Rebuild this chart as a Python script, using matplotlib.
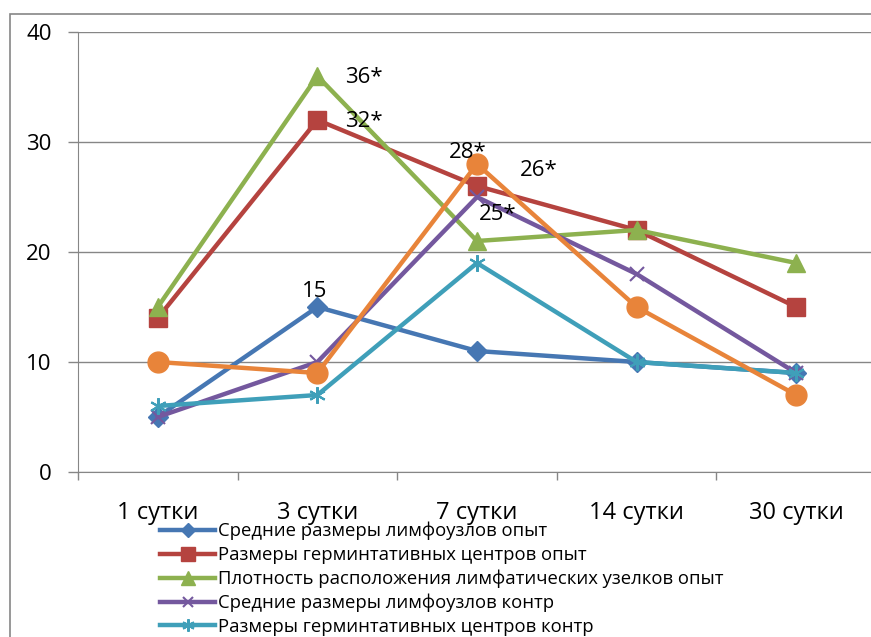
import matplotlib
matplotlib.use("Agg")
import matplotlib.pyplot as plt
from matplotlib.patches import Rectangle

plt.rcParams['font.family'] = ['Open Sans', 'DejaVu Sans']

days = ["1 сутки", "3 сутки", "7 сутки", "14 сутки", "30 сутки"]

lymph_exp = [5, 15, 11, 10, 9]
germ_exp = [14, 32, 26, 22, 15]
density_exp = [15, 36, 21, 22, 19]
lymph_ctrl = [5, 10, 25, 18, 9]
germ_ctrl = [6, 7, 19, 10, 9]
density_ctrl = [10, 9, 28, 15, 7]

labels = [
    "Средние размеры лимфоузлов опыт",
    "Размеры герминтативных центров опыт",
    "Плотность расположения лимфатических узелков опыт",
    "Средние размеры лимфоузлов контр",
    "Размеры герминтативных центров контр",
    "Плотность расположения лимфатических узелков контр",
]

# annotation text, (x, y) in data units
notes = [("15", 0.98, 16.4), ("36*", 1.29, 35.9), ("32*", 1.29, 31.9),
         ("28*", 1.94, 29.0), ("26*", 2.39, 27.4), ("25*", 2.13, 23.4)]

W, H = 871, 637
fig = plt.figure(figsize=(W / 100, H / 100), dpi=100)
ax = fig.add_axes([78 / W, 1 - 472 / H, 798 / W, 440 / H])

# outer chart frame
fig.patches.append(Rectangle((10 / W, -0.2), 1.2, 1.2 - 14 / H, transform=fig.transFigure,
                             fill=False, edgecolor='#868686', lw=1.2, zorder=0))

x = range(len(days))
series = [
    (lymph_exp, '#4677B3', 'D', 10, 1),
    (germ_exp, '#B5433F', 's', 13, 1),
    (density_exp, '#8DB14F', '^', 13, 1),
    (lymph_ctrl, '#74589E', 'x', 10, 1.5),
    (germ_ctrl, '#3F9FB9', (6, 2, 0), 12, 1.5),
    (density_ctrl, '#E8843A', 'o', 15, 1),
]
handles = []
for (vals, col, mk, ms, mew), lab in zip(series, labels):
    h, = ax.plot(x, vals, color=col, lw=3.2, marker=mk, markersize=ms,
                 markeredgecolor=col, markerfacecolor=col, markeredgewidth=mew,
                 label=lab, clip_on=False)
    handles.append(h)

for txt, tx, ty in notes:
    ax.text(tx, ty, txt, fontsize=16, ha='center', va='center', color='black')

ax.set_xlim(-0.5, 4.5)
ax.set_ylim(0, 40)
ax.set_yticks([0, 10, 20, 30, 40])
ax.yaxis.grid(True, color='#868686', lw=1)
ax.set_axisbelow(True)
ax.set_xticks(list(x))
ax.set_xticklabels(days)
ax.set_xticks([i - 0.5 for i in range(len(days) + 1)], minor=True)
ax.tick_params(axis='x', which='major', length=0, pad=21, labelsize=17)
ax.tick_params(axis='x', which='minor', length=6, color='#868686', width=1, direction='out')
ax.tick_params(axis='y', length=7, color='#868686', width=1, pad=12, labelsize=16)
for s in ('top', 'right'):
    ax.spines[s].set_visible(False)
for s in ('left', 'bottom'):
    ax.spines[s].set_color('#868686')

fig.legend(handles=handles[:5], loc='upper left', bbox_to_anchor=(160 / W, 1 - 522 / H),
           frameon=False, fontsize=13.3, handlelength=3.0, handletextpad=0.12,
           labelspacing=0.3, borderpad=0, borderaxespad=0, markerscale=0.75)

fig.savefig("out.png", dpi=100)
